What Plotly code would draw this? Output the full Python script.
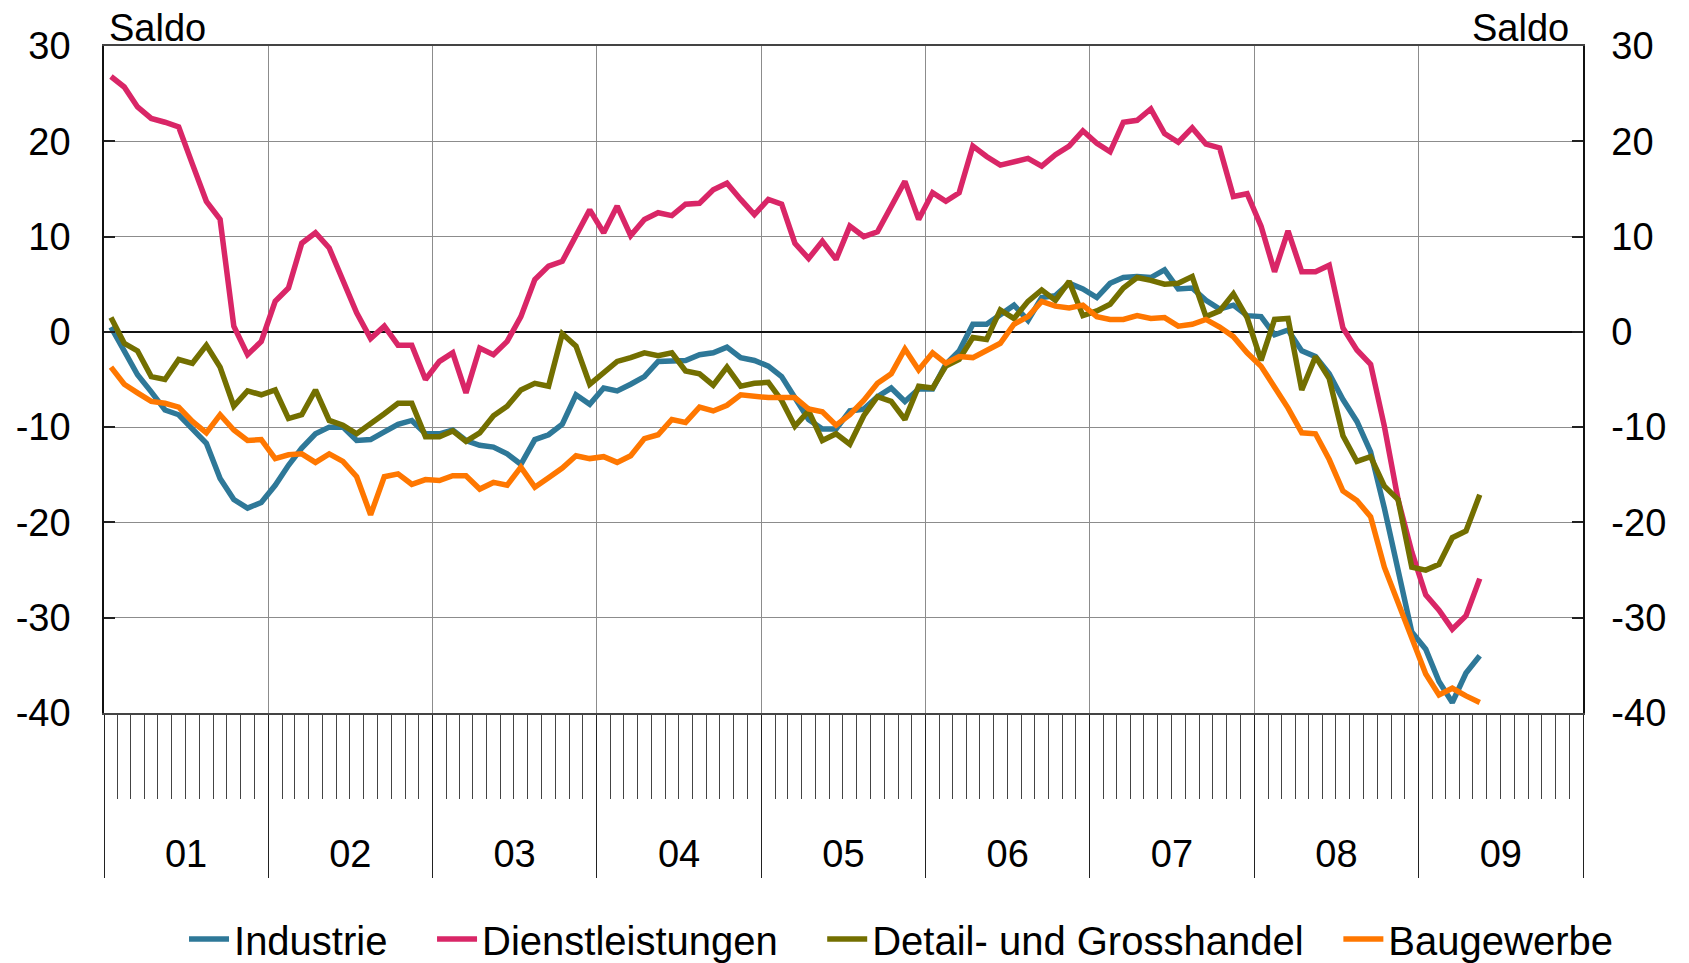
import pandas as pd
import plotly.graph_objects as go

# Monthly observations, Jan 2001 .. May 2009
months = pd.date_range("2001-01-01", "2009-05-01", freq="MS").strftime("%Y-%m-%d").tolist()

industrie = [0.5, -1.9, -4.5, -6.3, -8.2, -8.7, -10.1, -11.7, -15.4, -17.6, -18.5, -17.9,
             -16.1, -14.0, -12.2, -10.7, -10.0, -10.0, -11.4, -11.3, -10.5, -9.7, -9.3, -10.7,
             -10.7, -10.3, -11.4, -11.9, -12.1, -12.8, -13.9, -11.3, -10.8, -9.7, -6.6, -7.6,
             -5.9, -6.2, -5.5, -4.7, -3.1, -3.0, -3.0, -2.4, -2.2, -1.6, -2.7, -3.0,
             -3.6, -4.7, -6.9, -9.2, -10.2, -10.2, -8.3, -8.1, -6.8, -5.9, -7.3, -6.0,
             -6.0, -3.4, -2.0, 0.8, 0.8, 1.8, 2.8, 1.2, 3.6, 3.8, 5.1, 4.5,
             3.6, 5.1, 5.7, 5.8, 5.7, 6.5, 4.5, 4.6, 3.3, 2.4, 2.8, 1.7,
             1.6, -0.3, 0.2, -2.0, -2.6, -4.4, -7.1, -9.4, -12.6, -18.5, -25.1, -31.5,
             -33.3, -36.7, -38.9, -35.8, -34.0]

dienstleistungen = [26.8, 25.7, 23.6, 22.4, 22.0, 21.5, 17.6, 13.7, 11.8, 0.6, -2.4, -1.0,
                    3.2, 4.6, 9.3, 10.4, 8.8, 5.5, 2.0, -0.7, 0.6, -1.4, -1.4, -5.0,
                    -3.1, -2.2, -6.4, -1.7, -2.4, -1.0, 1.6, 5.5, 6.9, 7.4, 10.2, 12.8,
                    10.4, 13.2, 10.1, 11.8, 12.5, 12.2, 13.4, 13.5, 14.9, 15.6, 13.9, 12.3,
                    13.9, 13.4, 9.3, 7.7, 9.5, 7.6, 11.1, 10.0, 10.5, 13.2, 15.8, 11.8,
                    14.6, 13.7, 14.6, 19.5, 18.4, 17.5, 17.9, 18.2, 17.4, 18.6, 19.5, 21.1,
                    19.8, 18.9, 22.0, 22.2, 23.4, 20.8, 19.9, 21.4, 19.7, 19.3, 14.2, 14.5,
                    11.1, 6.3, 10.6, 6.3, 6.3, 7.0, 0.4, -1.9, -3.4, -9.9, -17.6, -23.1,
                    -27.6, -29.2, -31.2, -29.8, -25.9]

detailhandel = [1.5, -1.2, -2.0, -4.7, -5.0, -2.9, -3.3, -1.4, -3.7, -7.8, -6.2, -6.6,
                -6.1, -9.1, -8.7, -6.1, -9.3, -9.8, -10.7, -9.7, -8.6, -7.5, -7.5, -11.0,
                -11.0, -10.4, -11.5, -10.6, -8.8, -7.8, -6.1, -5.4, -5.7, -0.2, -1.5, -5.5,
                -4.3, -3.1, -2.7, -2.2, -2.5, -2.2, -4.1, -4.4, -5.6, -3.7, -5.7, -5.4,
                -5.3, -7.2, -9.9, -8.3, -11.4, -10.7, -11.8, -8.8, -6.8, -7.3, -9.2, -5.7,
                -5.9, -3.6, -2.9, -0.6, -0.8, 2.3, 1.4, 3.2, 4.4, 3.3, 5.3, 1.7,
                2.2, 2.9, 4.6, 5.7, 5.4, 5.0, 5.1, 5.8, 1.6, 2.2, 4.0, 1.5,
                -3.0, 1.3, 1.4, -6.1, -2.6, -4.9, -10.9, -13.6, -13.1, -16.2, -17.6, -24.7,
                -25.0, -24.4, -21.6, -20.9, -17.1]

baugewerbe = [-3.7, -5.5, -6.4, -7.3, -7.5, -7.9, -9.4, -10.6, -8.7, -10.3, -11.4, -11.3,
              -13.3, -12.9, -12.8, -13.7, -12.8, -13.6, -15.2, -19.2, -15.2, -14.9, -16.0, -15.5,
              -15.6, -15.1, -15.1, -16.5, -15.8, -16.1, -14.2, -16.3, -15.3, -14.3, -13.0, -13.3,
              -13.1, -13.7, -13.0, -11.2, -10.8, -9.2, -9.5, -7.9, -8.3, -7.7, -6.6, -6.8,
              -6.9, -6.9, -6.9, -8.1, -8.4, -9.8, -8.7, -7.2, -5.4, -4.4, -1.8, -4.0,
              -2.2, -3.3, -2.6, -2.7, -1.9, -1.2, 0.8, 1.6, 3.2, 2.7, 2.5, 2.8,
              1.6, 1.3, 1.3, 1.7, 1.4, 1.5, 0.6, 0.8, 1.3, 0.5, -0.5, -2.2,
              -3.6, -5.8, -8.0, -10.6, -10.7, -13.4, -16.7, -17.7, -19.4, -24.7, -28.5, -32.2,
              -35.9, -38.1, -37.4, -38.2, -38.9]

series_names = ["Industrie", "Dienstleistungen", "Detail- und Grosshandel", "Baugewerbe"]
series_values = [industrie, dienstleistungen, detailhandel, baugewerbe]
series_colors = ["#2E7898", "#D92667", "#736F00", "#FF7700"]
legend_ids = ["legend", "legend2", "legend3", "legend4"]
legend_x = [0.0541, 0.2218, 0.4856, 0.8346]

y_tickvals = [-40, -30, -20, -10, 0, 10, 20, 30]
y_ticktext = ["-40", "-30", "-20", "-10", "0", "10", "20", "30"]

FONT = "Liberation Sans, Arial, sans-serif"
FS = 38
FS_LEG = 40

fig = go.Figure()
for name, vals, col, lg in zip(series_names, series_values, series_colors, legend_ids):
    fig.add_trace(go.Scatter(
        x=months, y=vals, name=name, mode="lines",
        line=dict(color=col, width=5.5), legend=lg,
        xperiod="M1", xperiodalignment="middle",
    ))

# invisible trace to carry the right-hand axis
fig.add_trace(go.Scatter(x=months, y=industrie, yaxis="y2", mode="lines",
                         line=dict(width=0), opacity=0, showlegend=False,
                         hoverinfo="skip", xperiod="M1", xperiodalignment="middle"))

GRID = "#8c8c8c"

legend_common = dict(orientation="h", y=-0.339, yanchor="middle", xanchor="left",
                     font=dict(size=FS_LEG), itemwidth=40,
                     bgcolor="rgba(0,0,0,0)")
legend_layout = {lg: dict(x=lx, **legend_common) for lg, lx in zip(legend_ids, legend_x)}

fig.update_layout(
    width=1673, height=990, autosize=False,
    margin=dict(l=96, r=98, t=38, b=285),
    paper_bgcolor="white", plot_bgcolor="white",
    font=dict(family=FONT, size=FS, color="black"),
    showlegend=True,
    xaxis=dict(
        type="date", range=["2001-01-01", "2010-01-01"], automargin=False,
        tick0="2001-01-01", dtick="M12", tickformat="%y", ticklabelmode="period",
        ticks="outside", ticklen=163, tickwidth=1, tickcolor="#222",
        ticklabelstandoff=-56,
        showgrid=True, gridcolor=GRID, gridwidth=1,
        showline=True, linecolor="#444", linewidth=1.5, mirror=True,
        minor=dict(dtick="M1", ticks="outside", ticklen=84, tickwidth=1,
                   tickcolor="#444", showgrid=False),
        tickfont=dict(size=FS), fixedrange=True,
    ),
    yaxis=dict(
        range=[-40, 30], tickvals=y_tickvals, ticktext=y_ticktext, automargin=False,
        ticks="inside", ticklen=11, tickwidth=1.5, tickcolor="#222",
        showgrid=True, gridcolor=GRID, gridwidth=1,
        zeroline=True, zerolinecolor="#111", zerolinewidth=1.5,
        showline=True, linecolor="#111", linewidth=1.5,
        ticklabelstandoff=24, tickfont=dict(size=FS),
    ),
    yaxis2=dict(
        range=[-40, 30], tickvals=y_tickvals, ticktext=y_ticktext, automargin=False,
        overlaying="y", side="right",
        ticks="inside", ticklen=11, tickwidth=1.5, tickcolor="#222",
        showgrid=False, zeroline=False,
        showline=True, linecolor="#111", linewidth=1.5,
        ticklabelstandoff=19, tickfont=dict(size=FS),
    ),
    annotations=[
        dict(text="Saldo", xref="paper", yref="paper", x=0, y=1.027,
             xanchor="left", yanchor="middle", xshift=4, showarrow=False,
             borderpad=0, font=dict(size=FS)),
        dict(text="Saldo", xref="paper", yref="paper", x=1, y=1.027,
             xanchor="right", yanchor="middle", xshift=-13, showarrow=False,
             borderpad=0, font=dict(size=FS)),
    ],
    **legend_layout,
)

fig.write_html("out.html")
